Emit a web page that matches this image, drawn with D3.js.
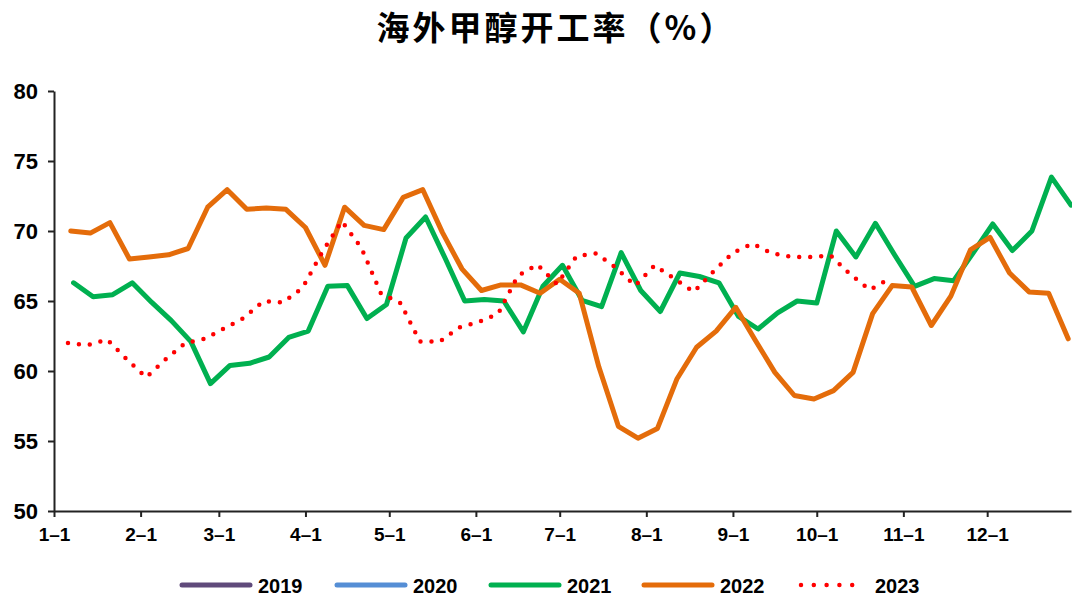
<!DOCTYPE html>
<html>
<head>
<meta charset="utf-8">
<script src="https://cdn.jsdelivr.net/npm/d3@7"></script>
<style>
  body { margin: 0; background: #fff; }
  .tick text { font-family: "Liberation Sans", Arial, sans-serif; font-weight: bold; fill: #000; }
  .legend text { font-family: "Liberation Sans", Arial, sans-serif; font-weight: bold; font-size: 20px; }
</style>
</head>
<body>
<div id="chart"></div>
<script>
// tick labels
const monthLabels = ["1–1","2–1","3–1","4–1","5–1","6–1","7–1","8–1","9–1","10–1","11–1","12–1"];
const yTicks = [50, 55, 60, 65, 70, 75, 80];

// weekly readings, one array per year
const years = ["2019", "2020", "2021", "2022", "2023"];
const firstWeek = { "2019": "2019-01-04", "2020": "2020-01-03", "2021": "2021-01-08", "2022": "2022-01-07", "2023": "2023-01-06" };

const v2019 = [];
const v2020 = [];
const v2021 = [66.3, 65.3, 65.45, 66.3, 64.9, 63.6, 62.1, 59.1, 60.4, 60.55, 61.0, 62.4, 62.85,
  66.05, 66.1, 63.75, 64.75, 69.5, 71.0, 68.05, 65.0, 65.1, 65.0, 62.8, 66.05, 67.55,
  65.05, 64.6, 68.45, 65.75, 64.25, 67.0, 66.75, 66.3, 63.9, 63.0, 64.15, 65.0, 64.85,
  70.0, 68.15, 70.55, 68.25, 66.05, 66.6, 66.45, 68.45, 70.5, 68.6, 70.0, 73.85, 71.85];
const v2022 = [70.0, 69.85, 70.6, 68.0, 68.15, 68.3, 68.75, 71.7, 72.95, 71.55, 71.65, 71.55, 70.25,
  67.55, 71.7, 70.4, 70.1, 72.4, 72.95, 69.9, 67.3, 65.75, 66.15, 66.15, 65.55, 66.55,
  65.55, 60.3, 56.05, 55.2, 55.9, 59.45, 61.7, 62.85, 64.55, 62.2, 59.9, 58.25, 58.0,
  58.6, 59.9, 64.1, 66.1, 66.0, 63.25, 65.35, 68.65, 69.55, 67.0, 65.65, 65.55, 62.3];
const v2023 = [62.0, 61.85, 62.25, 60.85, 59.55, 60.85, 62.0, 62.3, 63.05, 63.8, 65.0, 64.9, 65.95,
  68.5, 70.7, 68.8, 65.55, 64.85, 62.1, 62.1, 63.1, 63.5, 64.1, 66.8, 67.6, 66.2,
  68.2, 68.4, 67.4, 66.1, 67.55, 66.6, 65.65, 67.1, 68.45, 69.1, 68.4, 68.15, 68.15,
  68.25, 66.9, 65.8, 66.6];

const valuesByYear = { "2019": v2019, "2020": v2020, "2021": v2021, "2022": v2022, "2023": v2023 };
const colors = { "2019": "#604a7b", "2020": "#558ed5", "2021": "#00b050", "2022": "#e46c0a", "2023": "#ff0000" };

const w = 1072;
const h = 603;
const plotLeft = 54, plotRight = 1071, plotTop = 91, plotBottom = 511;

const svg = d3.select("#chart")
    .append("svg")
    .attr("width", w)
    .attr("height", h);

// every year is put on the same calendar so that they overlap
const onBaseYear = d => new Date(2001, d.getMonth(), d.getDate());

const xScale = d3.scaleTime()
    .domain([new Date(2001, 0, 1), new Date(2001, 11, 31)])
    .range([plotLeft, plotRight]);

const yScale = d3.scaleLinear()
    .domain([50, 80])
    .range([plotBottom, plotTop]);

const monthStarts = monthLabels.map((m, i) => new Date(2001, i, 1));

svg.append("text")
    .text("海外甲醇开工率（%）")
    .attr("x", 556)
    .attr("y", 40)
    .style("text-anchor", "middle")
    .style("font-family", "'Noto Sans CJK SC', sans-serif")
    .style("font-weight", "bold")
    .style("font-size", "33px")
    .style("letter-spacing", "3px");

const xAxis = d3.axisBottom(xScale)
    .tickValues(monthStarts)
    .tickFormat((d, i) => monthLabels[i])
    .tickSize(6)
    .tickSizeOuter(0)
    .tickPadding(11);

const yAxis = d3.axisLeft(yScale)
    .tickValues(yTicks)
    .tickSize(6)
    .tickSizeOuter(0)
    .tickPadding(10);

const gx = svg.append("g")
    .attr("id", "x-axis")
    .attr("transform", "translate(0," + plotBottom + ")")
    .call(xAxis);
gx.selectAll("text").style("font-size", "19px");

const gy = svg.append("g")
    .attr("id", "y-axis")
    .attr("transform", "translate(" + plotLeft + ",0)")
    .call(yAxis);
gy.selectAll("text").style("font-size", "22px");

svg.selectAll(".domain, .tick line")
    .attr("stroke", "#222")
    .attr("stroke-width", 2);

const line = d3.line()
    .x(d => xScale(d.date))
    .y(d => yScale(d.value));

// draw in legend order so 2023 sits on top
years.forEach(y => {
    const start = d3.timeParse("%Y-%m-%d")(firstWeek[y]);
    const pts = valuesByYear[y].map((v, i) => ({
        date: onBaseYear(d3.timeDay.offset(start, 7 * i)),
        value: v
    }));
    if (pts.length === 0) return;
    const path = svg.append("path")
        .datum(pts)
        .attr("fill", "none")
        .attr("stroke", colors[y])
        .attr("d", line);
    if (y === "2023") {
        path.attr("stroke-width", 4.5)
            .attr("stroke-linecap", "round")
            .attr("stroke-dasharray", "0 11");
    } else {
        path.attr("stroke-width", 5)
            .attr("stroke-linejoin", "round")
            .attr("stroke-linecap", "round");
    }
});

// legend
const legendX = [182, 337, 491, 644, 799];
const legend = svg.append("g").attr("class", "legend");
years.forEach((y, i) => {
    const g = legend.append("g").attr("transform", "translate(" + legendX[i] + ",585)");
    const l = g.append("line")
        .attr("x1", 0).attr("x2", 68)
        .attr("y1", 0).attr("y2", 0)
        .attr("stroke", colors[y])
        .attr("stroke-linecap", "round");
    if (y === "2023") {
        l.attr("x1", 2).attr("x2", 66).attr("stroke-width", 4.5).attr("stroke-dasharray", "0 12.8");
    } else {
        l.attr("stroke-width", 5);
    }
    g.append("text")
        .text(y)
        .attr("x", 76)
        .attr("y", 8);
});
</script>
</body>
</html>
